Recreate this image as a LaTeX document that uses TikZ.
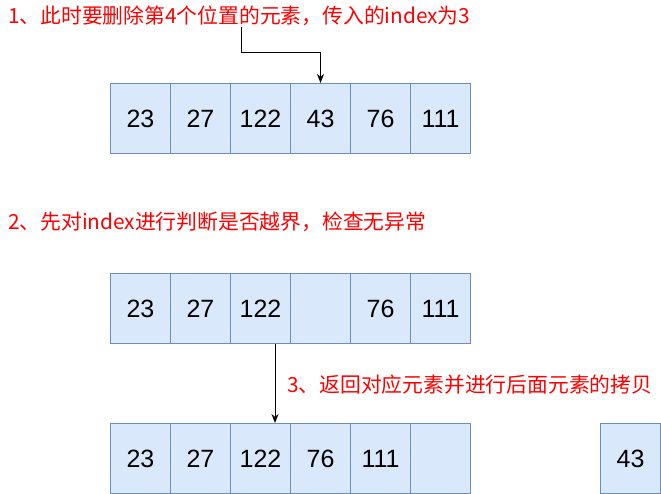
\documentclass[tikz,border=0pt]{standalone}
\usepackage{fontspec}
\setmainfont{Liberation Sans}
\newfontfamily\cjk{Noto Sans CJK SC}
\usetikzlibrary{arrows.meta}
\definecolor{cellfill}{HTML}{DAE8FC}
\definecolor{cellline}{HTML}{6C8EBF}
\definecolor{notered}{HTML}{FF0000}
\begin{document}
\begin{tikzpicture}[x=1pt,y=-1pt,
  cell/.style={draw=cellline,fill=cellfill,line width=1pt,minimum width=60pt,minimum height=70pt,inner sep=0pt,anchor=north west,font=\fontsize{25}{29}\selectfont},
  note/.style={text=notered,anchor=west,inner sep=0pt,font=\cjk\fontsize{20.8}{24}\selectfont},
  arr/.style={line width=1pt,-{Stealth[length=9pt,width=7pt]}}]
\useasboundingbox (0,0) rectangle (661,493);
% row 1
\foreach \v [count=\i] in {23,27,122,43,76,111}{
  \node[cell] (a\i) at ({110+60*(\i-1)},83) {\v};
}
% row 2
\foreach \v [count=\i] in {23,27,122,{},76,111}{
  \node[cell] (b\i) at ({110+60*(\i-1)},273) {\v};
}
% row 3
\foreach \v [count=\i] in {23,27,122,76,111,{}}{
  \node[cell] (c\i) at ({110+60*(\i-1)},423) {\v};
}
\node[cell] (c43) at (600,423) {43};
% notes
\node[note] (t1) at (8,16) {1、此时要删除第4个位置的元素，传入的index为3};
\node[note] (t2) at (8,222) {2、先对index进行判断是否越界，检查无异常};
\node[note] (t3) at (287,385) {3、返回对应元素并进行后面元素的拷贝};
% arrows
\coordinate (s1) at (241,27);
\draw[arr] (s1) -- (241,52) -| (a4.north);
\coordinate (x2) at (275,0);
\draw[arr] (b3.south -| x2) -- (c3.north -| x2);
\end{tikzpicture}
\end{document}
